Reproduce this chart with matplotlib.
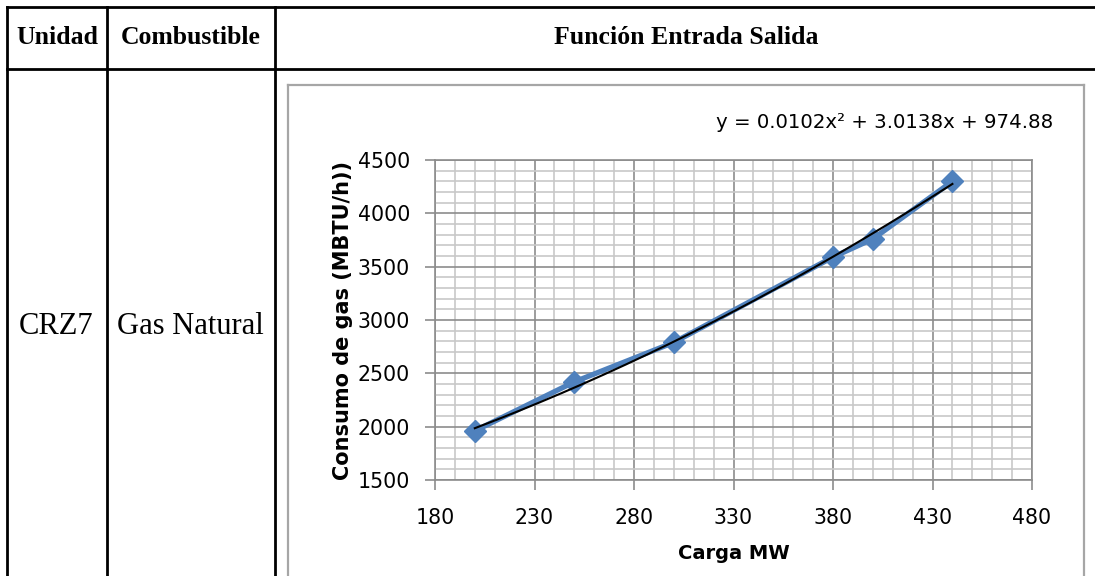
import numpy as np
import matplotlib
matplotlib.use("Agg")
import matplotlib.pyplot as plt
from matplotlib.lines import Line2D
from matplotlib.ticker import MultipleLocator

# ---- data ----
carga_mw = [200, 250, 300, 380, 400, 440]
consumo_gas = [1960, 2420, 2790, 3590, 3760, 4300]
trend_coef = [0.0102, 3.0138, 974.88]   # y = a x^2 + b x + c
x_ticks = [180, 230, 280, 330, 380, 430, 480]
y_ticks = [1500, 2000, 2500, 3000, 3500, 4000, 4500]
header_labels = ["Unidad", "Combustible", "Función Entrada Salida"]
row_labels = ["CRZ7", "Gas Natural"]
equation = "y = 0.0102x² + 3.0138x + 974.88"

W, H = 1095, 576
fig = plt.figure(figsize=(W / 100, H / 100), dpi=100)

def fx(px):
    return px / W

def fy(py):
    return 1 - py / H

# ---- table lines ----
tl = dict(color="black", lw=2.0, transform=fig.transFigure)
fig.add_artist(Line2D([fx(7), 1.0], [fy(7), fy(7)], **tl))
fig.add_artist(Line2D([fx(7), 1.0], [fy(69), fy(69)], **tl))
for xp in (7, 107, 275):
    fig.add_artist(Line2D([fx(xp), fx(xp)], [fy(7), 0.0], **tl))

serif = "Liberation Serif"
fig.text(fx(57), fy(38), header_labels[0], ha="center", va="center",
         fontsize=18.5, fontweight="bold", family=serif)
fig.text(fx(191), fy(38), header_labels[1], ha="center", va="center",
         fontsize=18.5, fontweight="bold", family=serif)
fig.text(fx(686), fy(38), header_labels[2], ha="center", va="center",
         fontsize=18.5, fontweight="bold", family=serif)
fig.text(fx(56), fy(326), row_labels[0], ha="center", va="center",
         fontsize=22, family=serif)
fig.text(fx(190), fy(326), row_labels[1], ha="center", va="center",
         fontsize=22, family=serif)

# ---- chart frame ----
fr = dict(color="#A6A6A6", lw=1.6, transform=fig.transFigure)
fig.add_artist(Line2D([fx(288), fx(1084)], [fy(85), fy(85)], **fr))
fig.add_artist(Line2D([fx(288), fx(288)], [fy(85), 0.0], **fr))
fig.add_artist(Line2D([fx(1084), fx(1084)], [fy(85), 0.0], **fr))

# ---- axes ----
ax = fig.add_axes([fx(435), fy(480), fx(1032) - fx(435), (480 - 160) / H])
ax.set_xlim(180, 480)
ax.set_ylim(1500, 4500)
ax.set_xticks(x_ticks)
ax.set_yticks(y_ticks)
ax.xaxis.set_minor_locator(MultipleLocator(10))
ax.yaxis.set_minor_locator(MultipleLocator(100))
ax.grid(which="minor", color="#C8C8C8", lw=1.2, zorder=0)
ax.grid(which="major", color="#8C8C8C", lw=1.2, zorder=0.5)
ax.set_axisbelow(True)
for s in ax.spines.values():
    s.set_color("#8C8C8C")
    s.set_linewidth(1.2)
ax.tick_params(which="major", direction="out", length=7, width=1.2,
               color="#8C8C8C", labelsize=14.8, pad=11)
ax.tick_params(axis="x", pad=13)
ax.tick_params(which="minor", length=0)
for lab in ax.get_xticklabels() + ax.get_yticklabels():
    lab.set_family("DejaVu Sans")

ax.plot(carga_mw, consumo_gas, color="#4F81BD", lw=3.8, marker="D",
        markersize=11, zorder=3, solid_joinstyle="round")
xt = np.linspace(min(carga_mw), max(carga_mw), 200)
ax.plot(xt, np.polyval(trend_coef, xt), color="black", lw=1.5, zorder=4)

ax.set_xlabel("Carga MW", fontsize=14, fontweight="bold", family="DejaVu Sans",
              labelpad=12)
ax.set_ylabel("Consumo de gas (MBTU/h))", fontsize=15, fontweight="bold",
              family="DejaVu Sans", labelpad=3)

fig.text(fx(1053), fy(128), equation, ha="right", va="baseline",
         fontsize=14.2, family="DejaVu Sans")

fig.savefig("out.png", dpi=100)
